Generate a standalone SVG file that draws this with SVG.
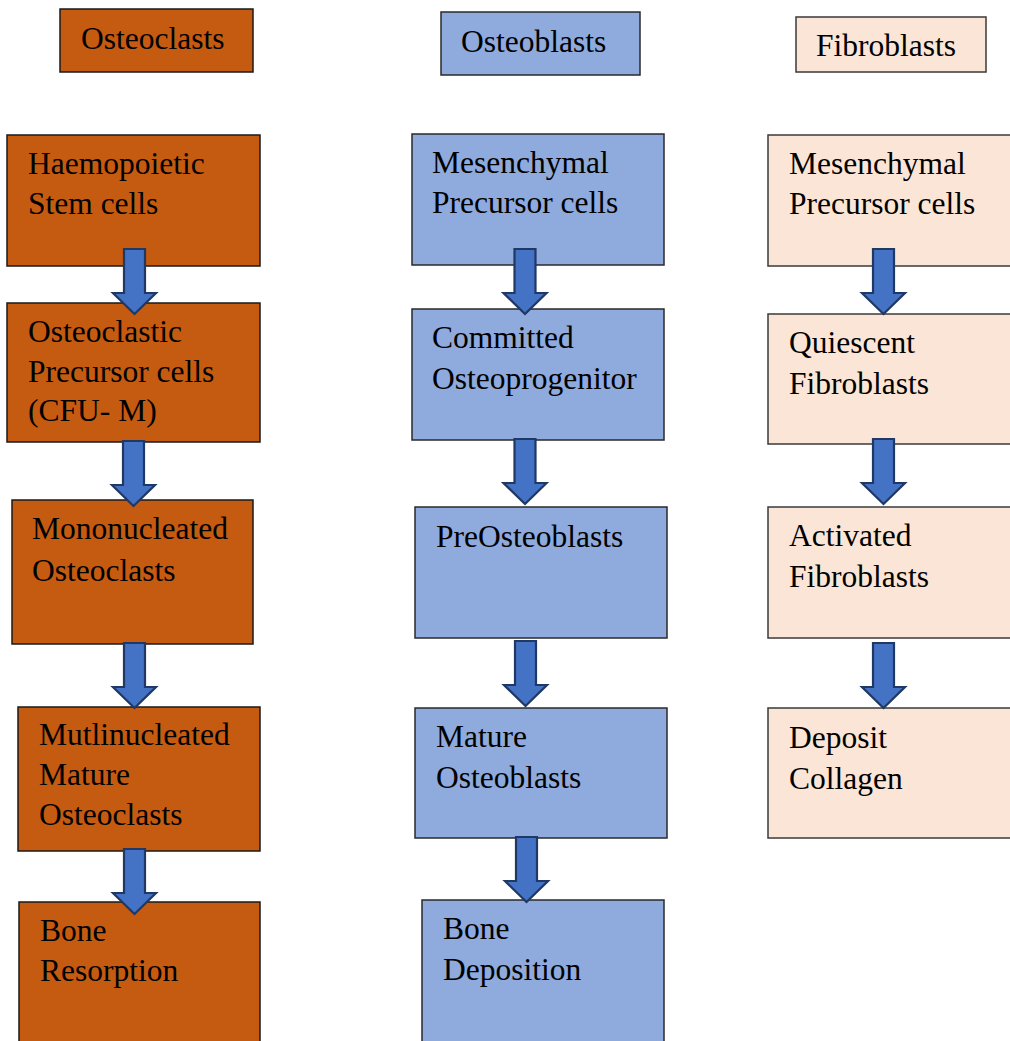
<svg xmlns="http://www.w3.org/2000/svg" xmlns:xlink="http://www.w3.org/1999/xlink" width="1010" height="1041" viewBox="0 0 1010 1041">
<style>
text{font-family:"Liberation Serif","Times New Roman",serif;font-size:31.5px;fill:#000}
.oc{fill:#C55A11;stroke:#1a1a1a;stroke-width:1.5}
.ob{fill:#8FAADC;stroke:#2a2a2a;stroke-width:1.5}
.fb{fill:#FBE5D6;stroke:#3a3a3a;stroke-width:1.5}
.arr{fill:#4472C4;stroke:#1F3864;stroke-width:2.2;stroke-linejoin:miter}
</style>
<defs>
<path id="arrow" class="arr" d="M-10.5,0 H10.5 V44 H21.5 L0,65 L-21.5,44 H-10.5 Z"/>
</defs>
<rect width="1010" height="1041" fill="#fff"/>

<g id="hdr-osteoclasts"><rect class="oc" x="60" y="9" width="193" height="63"/><text x="81" y="49">Osteoclasts</text></g>
<g id="hdr-osteoblasts"><rect class="ob" x="441" y="12" width="199" height="63"/><text x="461" y="52">Osteoblasts</text></g>
<g id="hdr-fibroblasts"><rect class="fb" x="796" y="17" width="190" height="55"/><text x="816" y="56">Fibroblasts</text></g>

<g id="oc1"><rect class="oc" x="7" y="135" width="253" height="131"/><text x="28" y="174">Haemopoietic</text><text x="28" y="214">Stem cells</text></g>
<g id="oc2"><rect class="oc" x="7" y="303" width="253" height="139"/><text x="28" y="342">Osteoclastic</text><text x="28" y="382">Precursor cells</text><text x="28" y="421">(CFU- M)</text></g>
<g id="oc3"><rect class="oc" x="12" y="500" width="241" height="144"/><text x="32" y="539">Mononucleated</text><text x="32" y="581">Osteoclasts</text></g>
<g id="oc4"><rect class="oc" x="18" y="707" width="242" height="144"/><text x="39" y="745">Mutlinucleated</text><text x="39" y="785">Mature</text><text x="39" y="825">Osteoclasts</text></g>
<g id="oc5"><rect class="oc" x="19" y="902" width="241" height="145"/><text x="40" y="941">Bone</text><text x="40" y="981">Resorption</text></g>

<g id="ob1"><rect class="ob" x="412" y="134" width="252" height="131"/><text x="432" y="173">Mesenchymal</text><text x="432" y="213">Precursor cells</text></g>
<g id="ob2"><rect class="ob" x="412" y="309" width="252" height="131"/><text x="432" y="348">Committed</text><text x="432" y="389">Osteoprogenitor</text></g>
<g id="ob3"><rect class="ob" x="415" y="507" width="252" height="131"/><text x="436" y="547">PreOsteoblasts</text></g>
<g id="ob4"><rect class="ob" x="415" y="708" width="252" height="130"/><text x="436" y="747">Mature</text><text x="436" y="788">Osteoblasts</text></g>
<g id="ob5"><rect class="ob" x="422" y="900" width="242" height="147"/><text x="443" y="939">Bone</text><text x="443" y="980">Deposition</text></g>

<g id="fb1"><rect class="fb" x="768" y="135" width="250" height="131"/><text x="789" y="174">Mesenchymal</text><text x="789" y="214">Precursor cells</text></g>
<g id="fb2"><rect class="fb" x="768" y="314" width="250" height="130"/><text x="789" y="353">Quiescent</text><text x="789" y="394">Fibroblasts</text></g>
<g id="fb3"><rect class="fb" x="768" y="507" width="250" height="131"/><text x="789" y="546">Activated</text><text x="789" y="587">Fibroblasts</text></g>
<g id="fb4"><rect class="fb" x="768" y="708" width="250" height="130"/><text x="789" y="748">Deposit</text><text x="789" y="789">Collagen</text></g>

<g id="connectors">
<use xlink:href="#arrow" x="134.5" y="249"/>
<use xlink:href="#arrow" x="133.5" y="441"/>
<use xlink:href="#arrow" x="134.5" y="643"/>
<use xlink:href="#arrow" x="134.5" y="849"/>
<use xlink:href="#arrow" x="525" y="249"/>
<use xlink:href="#arrow" x="525" y="439"/>
<use xlink:href="#arrow" x="525.5" y="641"/>
<use xlink:href="#arrow" x="526.5" y="837"/>
<use xlink:href="#arrow" x="883.5" y="249"/>
<use xlink:href="#arrow" x="883.5" y="439"/>
<use xlink:href="#arrow" x="883.5" y="643"/>
</g>
</svg>
